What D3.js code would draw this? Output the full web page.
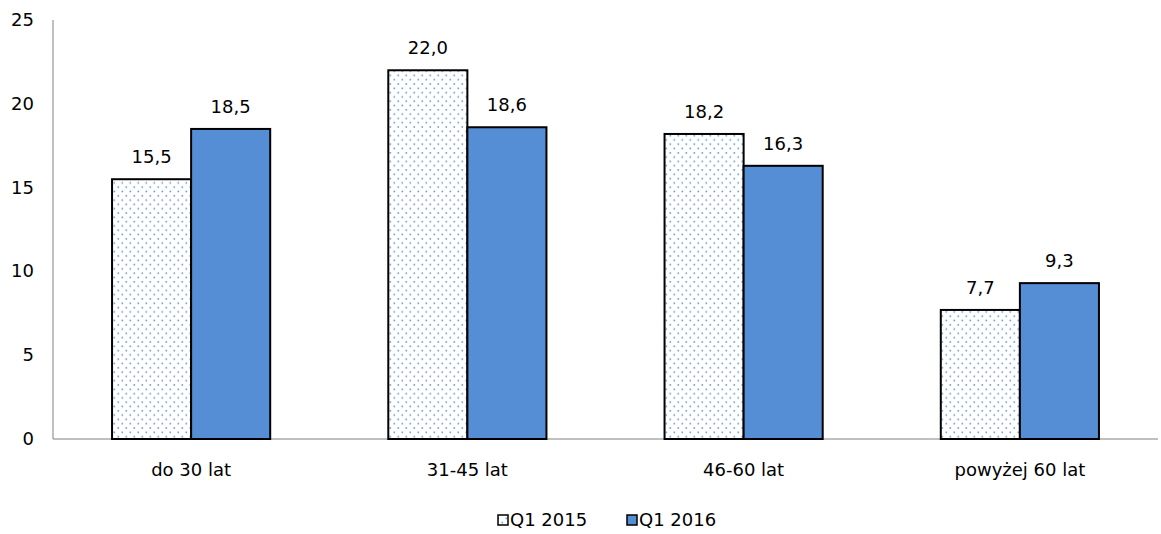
<!DOCTYPE html>
<html><head><meta charset="utf-8">
<script src="https://cdn.jsdelivr.net/npm/d3@7"></script>
<style>body{margin:0;background:#fff}svg text{font-family:"DejaVu Sans",Verdana,sans-serif;fill:#000}</style>
</head><body><svg id="c" width="1161" height="534"></svg>
<script>
const categories = ["do 30 lat","31-45 lat","46-60 lat","powyżej 60 lat"];
const seriesNames = ["Q1 2015","Q1 2016"];
const q2015 = [15.5,22.0,18.2,7.7];
const q2016 = [18.5,18.6,16.3,9.3];
const yTicks = [0,5,10,15,20,25];

(function(){
const FS = 18;
const svg = d3.select("#c");
const defs = svg.append("defs");
const pat = defs.append("pattern").attr("id","dots").attr("patternUnits","userSpaceOnUse").attr("width",8).attr("height",8.6);
pat.append("rect").attr("width",8).attr("height",8.6).attr("fill","#fff");
pat.append("rect").attr("x",1.5).attr("y",1.5).attr("width",1.6).attr("height",1.6).attr("fill","#6a9be0");
pat.append("rect").attr("x",5.5).attr("y",5.8).attr("width",1.6).attr("height",1.6).attr("fill","#6a9be0");

const mLeft=53, mRight=1158, mTop=20, mBottom=439;
const x = d3.scaleBand().domain(categories).range([mLeft,mRight]).paddingInner(0.4275).paddingOuter(0.21375);
const x1 = d3.scaleBand().domain(seriesNames).range([0,x.bandwidth()]);
const y = d3.scaleLinear().domain([0,25]).range([mBottom,mTop]);

svg.append("line").attr("x1",mLeft).attr("x2",mLeft).attr("y1",y(25)).attr("y2",mBottom).attr("stroke","#808080").attr("stroke-width",1);
svg.append("line").attr("x1",mLeft).attr("x2",mRight).attr("y1",mBottom).attr("y2",mBottom).attr("stroke","#808080").attr("stroke-width",1);

svg.selectAll(".yt").data(yTicks).enter().append("text")
  .attr("x",34).attr("y",d=>y(d)+6).attr("text-anchor","end").attr("font-size",FS).text(d=>d);

const fills = ["url(#dots)","#558ed5"];
const series = [q2015,q2016];
const fmt = v => v.toFixed(1).replace(".",",");
series.forEach((vals,si)=>{
  const g = svg.append("g");
  g.selectAll("rect").data(vals).enter().append("rect")
    .attr("x",(d,i)=>x(categories[i])+x1(seriesNames[si]))
    .attr("y",d=>y(d)).attr("width",x1.bandwidth()).attr("height",d=>mBottom-y(d))
    .attr("fill",fills[si]).attr("stroke","#000").attr("stroke-width",2);
  g.selectAll("text").data(vals).enter().append("text")
    .attr("x",(d,i)=>x(categories[i])+x1(seriesNames[si])+x1.bandwidth()/2)
    .attr("y",d=>y(d)-16).attr("text-anchor","middle").attr("font-size",FS).text(fmt);
});

svg.selectAll(".xl").data(categories).enter().append("text")
  .attr("x",d=>x(d)+x.bandwidth()/2).attr("y",476).attr("text-anchor","middle").attr("font-size",FS).text(d=>d);

const leg = [{n:seriesNames[0],f:"url(#dots)",x:498},{n:seriesNames[1],f:"#558ed5",x:627}];
leg.forEach(l=>{
  svg.append("rect").attr("x",l.x).attr("y",515).attr("width",10).attr("height",10).attr("fill",l.f).attr("stroke","#000").attr("stroke-width",1.5);
  svg.append("text").attr("x",l.x+12).attr("y",526).attr("font-size",FS).text(l.n);
});
})();
</script></body></html>
